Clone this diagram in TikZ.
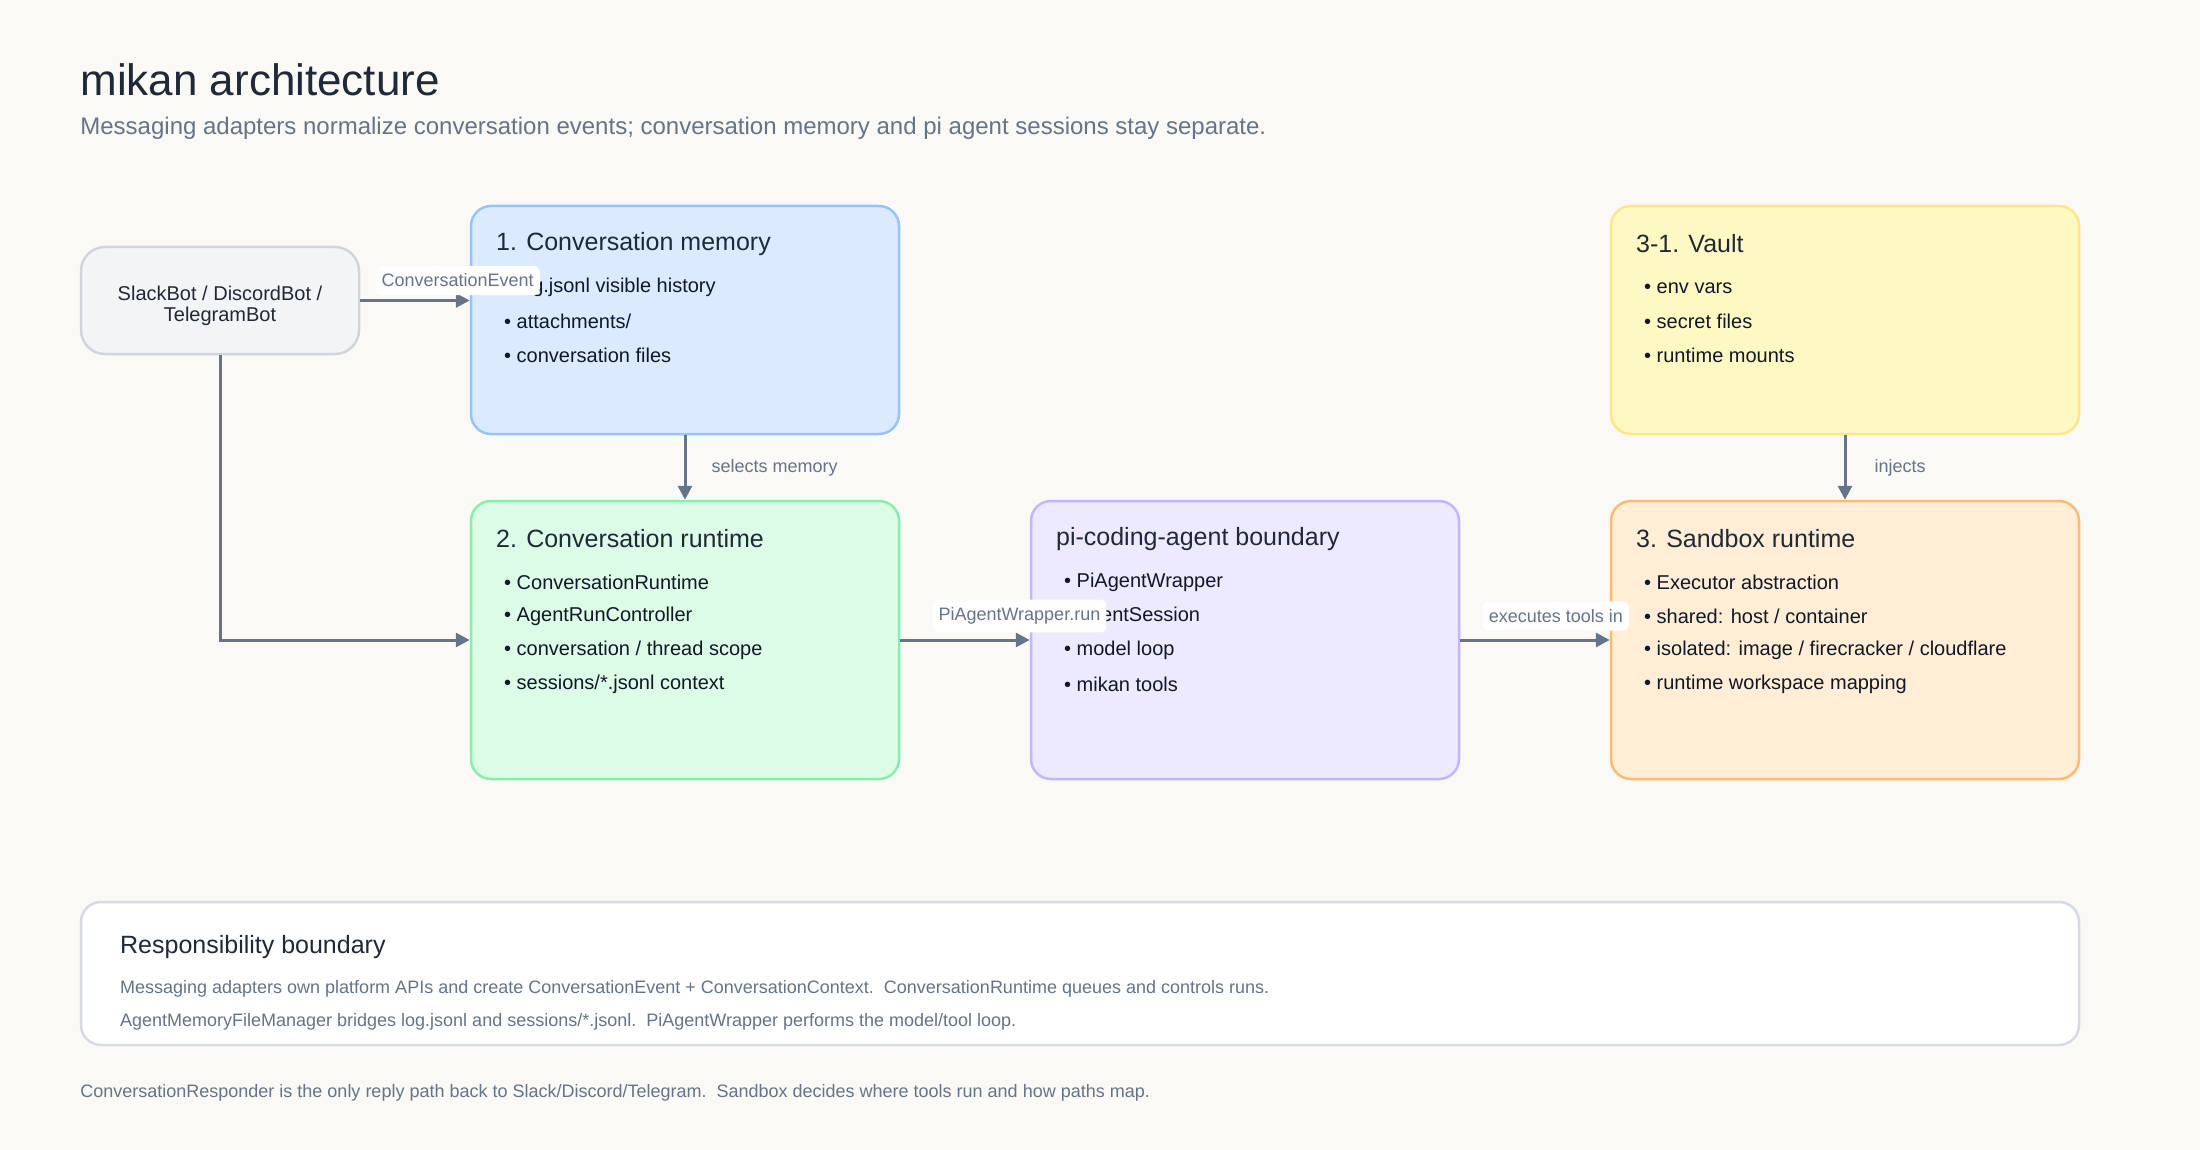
\documentclass[tikz,border=0pt]{standalone}
\usepackage{fontspec}
\setmainfont{Liberation Sans}
\usetikzlibrary{arrows.meta,calc}
\definecolor{bgc}{HTML}{FAF9F6}
\definecolor{slackF}{HTML}{F3F4F6}\definecolor{slackD}{HTML}{D1D5DB}
\definecolor{memF}{HTML}{DBEAFE}\definecolor{memD}{HTML}{93C5FD}
\definecolor{runF}{HTML}{DCFCE7}\definecolor{runD}{HTML}{86EFAC}
\definecolor{piF}{HTML}{EDE9FE}\definecolor{piD}{HTML}{C4B5FD}
\definecolor{vaultF}{HTML}{FEF9C3}\definecolor{vaultD}{HTML}{FDE68A}
\definecolor{sandF}{HTML}{FFEDD5}\definecolor{sandD}{HTML}{FDBA74}
\definecolor{respD}{HTML}{D6DAE5}
\definecolor{arrc}{HTML}{64748B}
\definecolor{titc}{HTML}{1F2937}
\definecolor{bodyc}{HTML}{111827}
\definecolor{mutc}{HTML}{64748B}
\begin{document}
\begin{tikzpicture}[x=0.5pt,y=-0.5pt,
  box/.style={draw, line width=1.25pt, rounded corners=10pt, inner sep=0pt},
  ttl/.style={anchor=west, inner sep=0pt, font=\fontsize{12.5pt}{15pt}\selectfont, text=titc},
  bul/.style={anchor=west, inner sep=0pt, font=\fontsize{10pt}{12pt}\selectfont, text=bodyc},
  arr/.style={draw=arrc, line width=1.5pt, -{Triangle[length=7pt,width=7pt]}},
  hlbl/.style={fill=white, rounded corners=3pt, inner xsep=3pt, inner ysep=4pt, text=mutc, font=\fontsize{9pt}{11pt}\selectfont},
  vlbl/.style={anchor=west, inner sep=0pt, text=mutc, font=\fontsize{9pt}{11pt}\selectfont},
  small/.style={anchor=west, inner sep=0pt, text=mutc, font=\fontsize{9pt}{11pt}\selectfont}
]
\fill[bgc] (0,0) rectangle (2200,1150);
\useasboundingbox (0,0) rectangle (2200,1150);

% titles
\node[anchor=west, inner sep=0pt, text=titc, font=\fontsize{22pt}{26pt}\selectfont] (title) at (80,80) {mikan architecture};
\node[anchor=west, inner sep=0pt, text=mutc, font=\fontsize{12pt}{14pt}\selectfont] (subtitle) at (80,128) {Messaging adapters normalize conversation events; conversation memory and pi agent sessions stay separate.};

% boxes
\node[box, draw=slackD, fill=slackF, rounded corners=12pt, minimum width=139pt, minimum height=53.5pt] (slack) at (220,300.5) {};
\node[inner sep=0pt, align=center, text=titc, font=\fontsize{10pt}{10.5pt}\selectfont] (slackT) at ($(slack.center)+(0,5)$) {SlackBot / DiscordBot /\\TelegramBot};
\node[box, draw=memD, fill=memF, minimum width=214pt, minimum height=114pt] (mem) at (685,320) {};
\node[box, draw=runD, fill=runF, minimum width=214pt, minimum height=139pt] (run) at (685,640) {};
\node[box, draw=piD, fill=piF, minimum width=214pt, minimum height=139pt] (pi) at (1245,640) {};
\node[box, draw=vaultD, fill=vaultF, minimum width=234pt, minimum height=114pt] (vault) at (1845,320) {};
\node[box, draw=sandD, fill=sandF, minimum width=234pt, minimum height=139pt] (sand) at (1845,640) {};
\node[box, draw=respD, fill=white, minimum width=999pt, minimum height=71.5pt] (resp) at (1080,973.5) {};

% box contents
\node[ttl] (memT) at ($(mem.north west)+(26,39)$) {1. Conversation memory};
\node[bul] (mem1) at ($(mem.north west)+(34,83)$) {• log.jsonl visible history};
\node[bul] (mem2) at ($(mem.north west)+(34,117)$) {• attachments/};
\node[bul] (mem3) at ($(mem.north west)+(34,151)$) {• conversation files};

\node[ttl] (runT) at ($(run.north west)+(26,39)$) {2. Conversation runtime};
\node[bul] (run1) at ($(run.north west)+(34,83)$) {• ConversationRuntime};
\node[bul] (run2) at ($(run.north west)+(34,117)$) {• AgentRunController};
\node[bul] (run3) at ($(run.north west)+(34,151)$) {• conversation / thread scope};
\node[bul] (run4) at ($(run.north west)+(34,185)$) {• sessions/*.jsonl context};

\node[ttl] (piT) at ($(pi.north west)+(26,39)$) {pi-coding-agent boundary};
\node[bul] (pi1) at ($(pi.north west)+(34,83)$) {• PiAgentWrapper};
\node[bul] (pi2) at ($(pi.north west)+(34,117)$) {• AgentSession};
\node[bul] (pi3) at ($(pi.north west)+(34,151)$) {• model loop};
\node[bul] (pi4) at ($(pi.north west)+(34,185)$) {• mikan tools};

\node[ttl] (vaultT) at ($(vault.north west)+(26,39)$) {3-1. Vault};
\node[bul] (vault1) at ($(vault.north west)+(34,83)$) {• env vars};
\node[bul] (vault2) at ($(vault.north west)+(34,117)$) {• secret files};
\node[bul] (vault3) at ($(vault.north west)+(34,151)$) {• runtime mounts};

\node[ttl] (sandT) at ($(sand.north west)+(26,39)$) {3. Sandbox runtime};
\node[bul] (sand1) at ($(sand.north west)+(34,83)$) {• Executor abstraction};
\node[bul] (sand2) at ($(sand.north west)+(34,117)$) {• shared: host / container};
\node[bul] (sand3) at ($(sand.north west)+(34,151)$) {• isolated: image / firecracker / cloudflare};
\node[bul] (sand4) at ($(sand.north west)+(34,185)$) {• runtime workspace mapping};

\node[ttl] (respT) at ($(resp.north west)+(40,46)$) {Responsibility boundary};
\node[small] (resp1) at ($(resp.north west)+(40,88)$) {Messaging adapters own platform APIs and create ConversationEvent + ConversationContext.\ \ ConversationRuntime queues and controls runs.};
\node[small] (resp2) at ($(resp.north west)+(40,121)$) {AgentMemoryFileManager bridges log.jsonl and sessions/*.jsonl.\ \ PiAgentWrapper performs the model/tool loop.};

\node[small] (footer) at (80,1093) {ConversationResponder is the only reply path back to Slack/Discord/Telegram.\ \ Sandbox decides where tools run and how paths map.};

% connectors
\draw[arr] (slack.east) -- node[hlbl, pos=0.89, yshift=10pt] (lblA) {ConversationEvent} (slack.east -| mem.west);
\draw[arr] (slack.south) |- (run.west);
\draw[arr] (mem.south) -- node[vlbl, xshift=12.5pt] (lblB) {selects memory} (run.north);
\draw[arr] (run.east) -- node[hlbl, pos=0.92, yshift=12pt] (lblC) {PiAgentWrapper.run} (pi.west);
\draw[arr] (pi.east) -- node[hlbl, pos=0.64, yshift=12pt] (lblD) {executes tools in} (sand.west);
\draw[arr] (vault.south) -- node[vlbl, xshift=14pt] (lblE) {injects} (sand.north);
\end{tikzpicture}
\end{document}
